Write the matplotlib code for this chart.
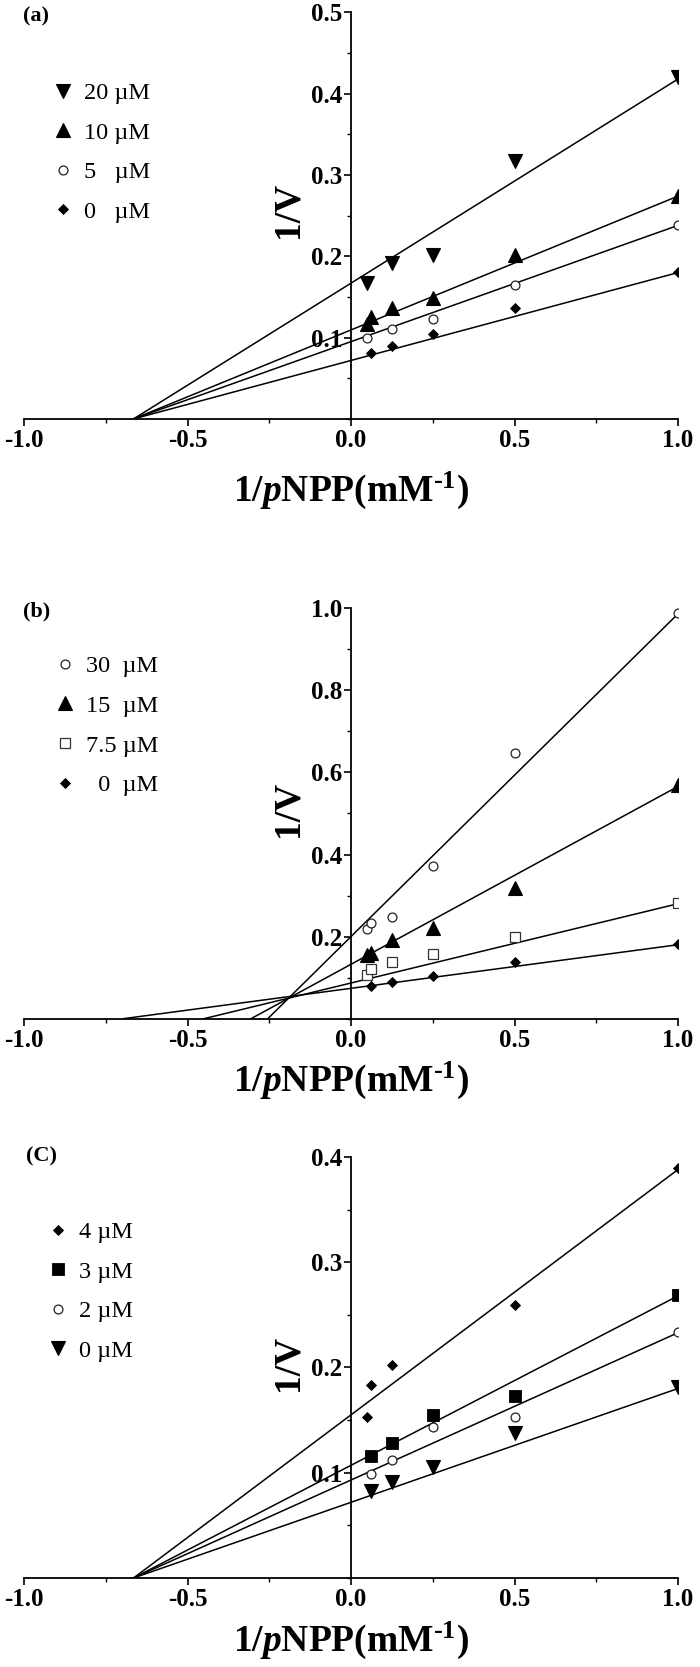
import matplotlib
matplotlib.use("Agg")
import matplotlib.pyplot as plt
from matplotlib.ticker import MultipleLocator, FormatStrFormatter

plt.rcParams['font.family'] = ['Liberation Serif', 'DejaVu Serif']
plt.rcParams['axes.unicode_minus'] = False
plt.rcParams['mathtext.fontset'] = 'custom'
plt.rcParams['mathtext.rm'] = 'Liberation Serif:bold'
plt.rcParams['mathtext.it'] = 'Liberation Serif:italic:bold'
plt.rcParams['mathtext.bf'] = 'Liberation Serif:bold'

# ---------------- Panel (a) ----------------
a_labels = ['20 µM', '10 µM', '5   µM', '0   µM']
a_x_20 = [0.05, 0.125, 0.25, 0.5, 1.0]
a_y_20 = [0.167, 0.192, 0.201, 0.317, 0.420]
a_x_10 = [0.05, 0.0625, 0.125, 0.25, 0.5, 1.0]
a_y_10 = [0.117, 0.125, 0.136, 0.149, 0.202, 0.274]
a_x_5 = [0.05, 0.125, 0.25, 0.5, 1.0]
a_y_5 = [0.099, 0.110, 0.123, 0.165, 0.238]
a_x_0 = [0.0625, 0.125, 0.25, 0.5, 1.0]
a_y_0 = [0.081, 0.090, 0.104, 0.137, 0.181]
a_fit_xint = [-0.665, -0.665, -0.665, -0.665]
a_fit_y1 = [0.418, 0.274, 0.238, 0.180]
a_yticks = [0.1, 0.2, 0.3, 0.4, 0.5]

# ---------------- Panel (b) ----------------
b_labels = ['30  µM', '15  µM', '7.5 µM', '  0  µM']
b_x_30 = [0.05, 0.0625, 0.125, 0.25, 0.5, 1.0]
b_y_30 = [0.218, 0.234, 0.247, 0.373, 0.648, 0.990]
b_x_15 = [0.05, 0.0625, 0.125, 0.25, 0.5, 1.0]
b_y_15 = [0.155, 0.160, 0.191, 0.221, 0.318, 0.570]
b_x_75 = [0.05, 0.0625, 0.125, 0.25, 0.5, 1.0]
b_y_75 = [0.106, 0.120, 0.139, 0.157, 0.200, 0.281]
b_x_0 = [0.0625, 0.125, 0.25, 0.5, 1.0]
b_y_0 = [0.080, 0.090, 0.104, 0.137, 0.181]
b_fit_xint = [-0.254, -0.305, -0.448, -0.693]
b_fit_y1 = [0.987, 0.566, 0.280, 0.180]
b_yticks = [0.2, 0.4, 0.6, 0.8, 1.0]

# ---------------- Panel (c) ----------------
c_labels = ['4 µM', '3 µM', '2 µM', '0 µM']
c_x_4 = [0.05, 0.0625, 0.125, 0.5, 1.0]
c_y_4 = [0.153, 0.183, 0.202, 0.259, 0.389]
c_x_3 = [0.0625, 0.125, 0.25, 0.5, 1.0]
c_y_3 = [0.116, 0.128, 0.155, 0.173, 0.269]
c_x_2 = [0.0625, 0.125, 0.25, 0.5, 1.0]
c_y_2 = [0.099, 0.112, 0.143, 0.153, 0.234]
c_x_0 = [0.0625, 0.125, 0.25, 0.5, 1.0]
c_y_0 = [0.083, 0.091, 0.105, 0.1375, 0.181]
c_fit_xint = [-0.665, -0.665, -0.665, -0.665]
c_fit_y1 = [0.388, 0.268, 0.233, 0.180]
c_yticks = [0.1, 0.2, 0.3, 0.4]

x_ticks = [-1.0, -0.5, 0.0, 0.5, 1.0]

# marker styles
TRI_DN = dict(marker='v', ms=10, mfc='black', mec='black', mew=0.8)
TRI_UP = dict(marker='^', ms=10, mfc='black', mec='black', mew=0.8)
CIRC = dict(marker='o', ms=6.4, mfc='white', mec='#222222', mew=0.9)
DIAM = dict(marker='D', ms=4.8, mfc='black', mec='black', mew=0.6)
SQ_OPEN = dict(marker='s', ms=6.6, mfc='white', mec='#333333', mew=0.9)
SQ_FILL = dict(marker='s', ms=9.0, mfc='black', mec='black', mew=0.6)

fig = plt.figure(figsize=(7.0, 16.67), dpi=100)

panels = [
    dict(rect=[0.0343, 0.7487, 0.9343, 0.2439], ylim=0.5, yticks=a_yticks, minor=0.05,
         series=[(a_x_20, a_y_20, TRI_DN), (a_x_10, a_y_10, TRI_UP), (a_x_5, a_y_5, CIRC), (a_x_0, a_y_0, DIAM)],
         labels=a_labels, xint=a_fit_xint, y1=a_fit_y1, tag='(a)', tagpos=(0.0514, 0.9904),
         leg=(0.0732, 0.9508), ylab_y=0.515, xlab_y=-0.125),
    dict(rect=[0.0343, 0.3890, 0.9343, 0.2460], ylim=1.0, yticks=b_yticks, minor=0.1,
         series=[(b_x_30, b_y_30, CIRC), (b_x_15, b_y_15, TRI_UP), (b_x_75, b_y_75, SQ_OPEN), (b_x_0, b_y_0, DIAM)],
         labels=b_labels, xint=b_fit_xint, y1=b_fit_y1, tag='(b)', tagpos=(0.0529, 0.6329),
         leg=(0.0760, 0.6068), ylab_y=0.51, xlab_y=-0.10),
    dict(rect=[0.0343, 0.0534, 0.9343, 0.2526], ylim=0.4, yticks=c_yticks, minor=0.05,
         series=[(c_x_4, c_y_4, DIAM), (c_x_3, c_y_3, SQ_FILL), (c_x_2, c_y_2, CIRC), (c_x_0, c_y_0, TRI_DN)],
         labels=c_labels, xint=c_fit_xint, y1=c_fit_y1, tag='(C)', tagpos=(0.0586, 0.3065),
         leg=(0.0661, 0.2675), ylab_y=0.51, xlab_y=-0.10),
]

for p in panels:
    ax = fig.add_axes(p['rect'])
    handles = []
    for (xs, ys, st) in p['series']:
        h, = ax.plot(xs, ys, linestyle='none', zorder=3, **st)
        handles.append(h)
    for xi, yv in zip(p['xint'], p['y1']):
        ax.plot([xi, 1.0], [0.0, yv], color='black', lw=1.1, zorder=2)

    ax.set_xlim(-1.0, 1.0)
    ax.set_ylim(0.0, p['ylim'])
    for s in ['top', 'right']:
        ax.spines[s].set_visible(False)
    ax.spines['left'].set_position(('data', 0.0))
    ax.spines['bottom'].set_position(('data', 0.0))
    ax.spines['left'].set_linewidth(1.3)
    ax.spines['bottom'].set_linewidth(1.3)

    ax.set_xticks(x_ticks)
    ax.xaxis.set_minor_locator(MultipleLocator(0.25))
    ax.set_yticks(p['yticks'])
    ax.yaxis.set_minor_locator(MultipleLocator(p['minor']))
    ax.xaxis.set_major_formatter(FormatStrFormatter('%.1f'))
    ax.yaxis.set_major_formatter(FormatStrFormatter('%.1f'))
    ax.tick_params(which='major', direction='out', length=5, width=1.2, labelsize=18)
    ax.tick_params(which='minor', direction='out', length=3, width=1.0)
    ax.tick_params(axis='x', which='major', pad=2.5)
    ax.tick_params(axis='y', which='major', pad=1)
    for lbl in ax.get_xticklabels() + ax.get_yticklabels():
        lbl.set_fontweight('bold')

    ax.set_xlabel(r'$\mathrm{1/}\mathit{p}\mathrm{NPP(mM^{\text{-}1})}$', fontsize=27)
    ax.xaxis.set_label_coords(0.5, p['xlab_y'])
    ax.set_ylabel('1/V', fontsize=27, fontweight='bold')
    ax.yaxis.set_label_coords(0.431, p['ylab_y'])

    ax.legend(handles, p['labels'], loc='upper left', bbox_to_anchor=p['leg'],
              bbox_transform=fig.transFigure,
              frameon=False, borderpad=0, borderaxespad=0, handlelength=1.0,
              handletextpad=0.35, labelspacing=0.72, numpoints=1,
              prop={'family': 'Liberation Serif', 'size': 17.5})

    fig.text(p['tagpos'][0], p['tagpos'][1], p['tag'], fontsize=16, fontweight='bold',
             ha='center', va='center')

fig.savefig('out.png', dpi=100)
